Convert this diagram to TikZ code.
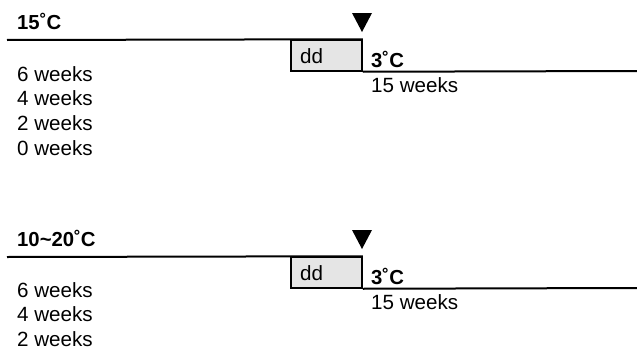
\documentclass[tikz,border=0pt]{standalone}
\usepackage{fontspec}
\setmainfont{Liberation Sans}
\begin{document}
\begin{tikzpicture}[x=1pt,y=-1pt,
  lbl/.style={anchor=base west,inner sep=0pt,font=\fontsize{20.6}{24}\selectfont},
  temp/.style={lbl,font=\fontsize{20.3}{24}\selectfont\bfseries},
  ddbox/.style={draw=black,line width=1.5pt,fill=black!10,minimum width=71pt,minimum height=31pt,inner sep=0pt},
  track/.style={line width=2pt},
  marker/.style={fill=black}]
\useasboundingbox (0,0) rectangle (637,348);
\foreach \off/\tlabel/\n in {0/15˚C/0, 217/10\char`\~20˚C/1}{
  % treatment temperature and the track before the cold period
  \node[temp] (t\n) at (17,29+\off) {\tlabel};
  \coordinate (s\n) at (7,40+\off);
  \node[ddbox] (b\n) at (326.5,55.5+\off) {};
  \node[lbl] (d\n) at (300,63+\off) {dd};
  \draw[track] (s\n) -- (b\n.north east);
  % cold period track
  \coordinate (e\n) at (637,71+\off);
  \draw[track] (b\n.south east) -- (e\n);
  \node[temp] (c\n) at (371,67+\off) {3˚C};
  \node[lbl] (w\n) at (371,92+\off) {15 weeks};
  % transfer marker
  \coordinate (m\n) at (362,32+\off);
  \fill[marker] (m\n) -- ++(-10,-19) -- ++(20,0) -- cycle;
}
% durations before the cold period
\node[lbl] (a6) at (17,81) {6 weeks};
\node[lbl] (a4) at (17,105.5) {4 weeks};
\node[lbl] (a2) at (17,130) {2 weeks};
\node[lbl] (a0) at (17,155) {0 weeks};
\node[lbl] (p6) at (17,297) {6 weeks};
\node[lbl] (p4) at (17,321.5) {4 weeks};
\node[lbl] (p2) at (17,346) {2 weeks};
\end{tikzpicture}
\end{document}
